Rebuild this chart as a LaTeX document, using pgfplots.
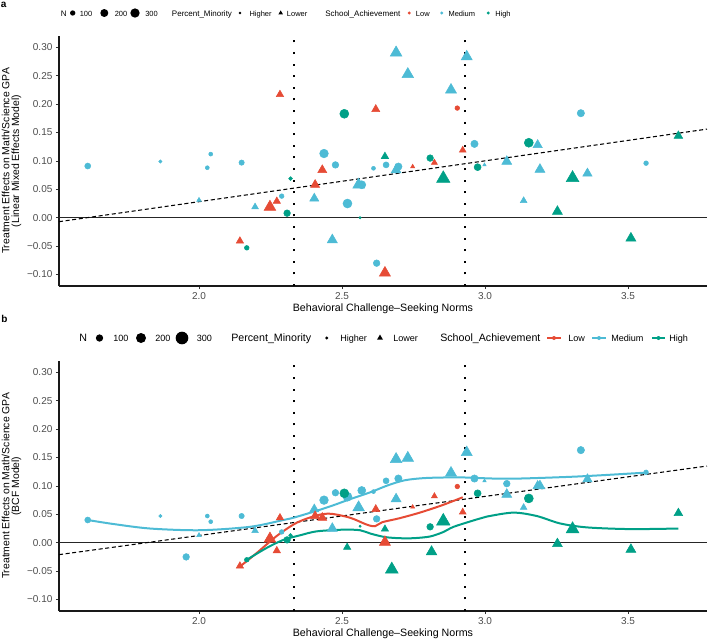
\documentclass[border=0pt]{standalone}
\usepackage{fontspec}
\setmainfont{Liberation Sans}
\usepackage{pgfplots}
\usepackage{pgfplotstable}
\pgfplotsset{compat=1.18}
\usetikzlibrary{shapes.geometric}

\definecolor{cLow}{HTML}{E64B35}
\definecolor{cMed}{HTML}{4DBBD5}
\definecolor{cHigh}{HTML}{00A087}

% x = norms, ya = LMM effect, yb = BCF effect, n = school size
\pgfplotstableread{
x     ya      yb     n
1.611 0.091   0.040  127
1.865 0.099   0.047  39
2.041 0.112   0.037  56
2.029 0.088   0.047  56
2.149 0.097   0.047  100
2.437 0.113   0.075  264
2.477 0.093   0.088  156
2.610 0.087   0.090  56
2.569 0.058   0.092  225
2.289 0.038   0.019  77
2.519 0.025   0.081  285
2.621 -0.080  0.042  156
3.335 0.184   0.163  189
2.963 0.130   0.113  189
2.654 0.093   0.109  127
2.697 0.090   0.113  189
3.563 0.096   0.124  77
1.955 nan     -0.025 156
3.076 nan     0.104  156
}\medcirc
\pgfplotstableread{
x     ya      yb     n
2.000 0.031   0.013  50
2.558 0.058   0.062  300
2.403 0.034   0.059  180
2.196 0.019   0.021  100
2.466 -0.039  0.025  223
2.689 0.2905  0.147  300
2.730 0.2525  0.149  300
2.881 0.225   0.123  270
2.936 0.2835  0.159  270
3.184 0.128   0.100  193
2.689 0.084   0.077  220
2.998 0.093   0.109  25
3.076 0.099   0.085  220
3.192 0.085   0.100  220
3.358 0.078   0.112  190
3.135 0.030   0.062  100
}\medtri
\pgfplotstableread{
x     ya      yb     n
2.903 0.193   0.099  77
}\lowcirc
\pgfplotstableread{
x     ya      yb     n
2.283 0.217   0.044  120
2.618 0.191   0.059  142
2.431 0.084   0.044  180
2.406 0.058   0.047  180
2.272 0.029   -0.014 120
2.248 0.019   0.007  300
2.143 -0.041  -0.041 120
2.650 -0.097  0.001  270
2.922 0.119   0.054  100
2.747 0.090   0.063  36
2.823 0.097   0.082  80
}\lowtri
\pgfplotstableread{
x     ya      yb     n
2.508 0.183   0.087  285
2.320 0.069   0.013  50
2.308 0.008   0.005  156
2.563 0.000   0.029  19
2.167 -0.053  -0.030 77
3.153 0.132   0.078  285
2.808 0.105   0.028  156
2.974 0.089   0.087  172
}\highcirc
\pgfplotstableread{
x     ya      yb     n
3.676 0.144   0.052  170
2.650 0.108   0.024  120
2.854 0.069   0.038  400
3.306 0.070   0.024  360
3.253 0.011   -0.002 220
3.510 -0.036  -0.012 220
2.518 nan     -0.008 120
2.813 nan     -0.016 250
2.674 nan     -0.047 360
}\hightri

% loess curves of panel b
\pgfplotstableread{
x     y
1.611 0.040
1.700 0.033
1.829 0.025
2.003 0.022
2.178 0.028
2.295 0.040
2.330 0.044
2.410 0.056
2.470 0.066
2.530 0.077
2.600 0.089
2.660 0.101
2.720 0.110
2.796 0.114
2.913 0.115
3.029 0.113
3.122 0.113
3.297 0.116
3.414 0.119
3.565 0.1235
}\medfit
\pgfplotstableread{
x     y
2.143 -0.042
2.202 -0.018
2.272 0.012
2.341 0.035
2.411 0.048
2.460 0.051
2.528 0.044
2.586 0.032
2.615 0.029
2.640 0.036
2.700 0.043
2.772 0.053
2.850 0.066
2.922 0.080
}\lowfit
\pgfplotstableread{
x     y
2.167 -0.030
2.237 -0.009
2.295 0.005
2.353 0.013
2.411 0.020
2.504 0.023
2.563 0.022
2.600 0.016
2.650 0.010
2.700 0.008
2.750 0.008
2.808 0.011
2.855 0.019
2.890 0.028
2.971 0.041
3.006 0.046
3.099 0.053
3.181 0.047
3.262 0.034
3.356 0.027
3.507 0.024
3.676 0.025
}\highfit

\pgfplotsset{
  panel/.style={
    scale only axis, width=486pt, height=187.5pt,
    xmin=1.5105, xmax=3.776, ymin=-0.1202, ymax=0.3199,
    axis x line*=bottom, axis y line*=left,
    axis line style={-, line width=0.8pt, black!90},
    tick align=outside, major tick length=2.25pt,
    tick style={line width=0.6pt, black!80},
    xtick={2,2.5,3,3.5}, xticklabels={2.0,2.5,3.0,3.5},
    ytick={-0.1,-0.05,0,0.05,0.1,0.15,0.2,0.25,0.3},
    yticklabels={−0.10,−0.05,0.00,0.05,0.10,0.15,0.20,0.25,0.30},
    ticklabel style={font=\fontsize{7.5}{9}\selectfont, text=black!70},
    xticklabel style={anchor=north, inner sep=0pt, yshift=-2.5pt},
    yticklabel style={anchor=east, inner sep=0pt, xshift=-2.5pt},
    every axis x label/.style={at={(axis description cs:0.5,0)}, anchor=base,
      yshift=-18.75pt, font=\fontsize{8}{9}\selectfont},
    every axis y label/.style={at={(axis description cs:-0.0887,0.5)}, rotate=90,
      anchor=north, align=center, inner sep=0pt,
      font=\fontsize{7.8}{7.3}\selectfont},
    xlabel={Behavioral Challenge–Seeking Norms},
  },
  circ/.style={only marks, scatter, mark=*,
    scatter/use mapped color={draw=#1, fill=#1},
    visualization depends on={0.2*sqrt(\thisrow{n}) \as \msz},
    scatter/@pre marker code/.append style={/tikz/mark size=\msz}},
  tri/.style={only marks, scatter, mark=triangle*,
    scatter/use mapped color={draw=#1, fill=#1},
    visualization depends on={0.29*sqrt(\thisrow{n}) \as \msz},
    scatter/@pre marker code/.append style={/tikz/mark size=\msz}},
  zeroline/.style={black!85, line width=0.9pt},
  vdot/.style={black, line width=1.5pt, dash pattern=on 1.5pt off 7.2pt},
  lmline/.style={black, line width=0.8pt, dash pattern=on 3pt off 2pt},
}

\begin{document}
\begin{tikzpicture}
\path[use as bounding box] (0,0) rectangle (531pt,-480pt);

% ---------- panel a ----------
\begin{axis}[panel, at={(44.25pt,-214.5pt)}, anchor=south west,
  ylabel={Treatment Effects on Math/Science GPA\\(Linear Mixed Effects Model)}]
\addplot[zeroline] coordinates {(1.5105,0) (3.776,0)};
\addplot[vdot] coordinates {(2.331,-0.1202) (2.331,0.3199)};
\addplot[vdot] coordinates {(2.929,-0.1202) (2.929,0.3199)};
\addplot[lmline] coordinates {(1.5105,-0.007) (3.776,0.156)};
\addplot[circ=cMed] table[x=x,y=ya] {\medcirc};
\addplot[tri=cMed] table[x=x,y=ya] {\medtri};
\addplot[circ=cLow] table[x=x,y=ya] {\lowcirc};
\addplot[tri=cLow] table[x=x,y=ya] {\lowtri};
\addplot[circ=cHigh] table[x=x,y=ya] {\highcirc};
\addplot[tri=cHigh] table[x=x,y=ya] {\hightri};
\end{axis}

% ---------- panel b ----------
\begin{axis}[panel, at={(44.25pt,-458.25pt)}, anchor=south west,
  ylabel={Treatment Effects on Math/Science GPA\\(BCF Model)}]
\addplot[zeroline] coordinates {(1.5105,0) (3.776,0)};
\addplot[vdot] coordinates {(2.331,-0.1202) (2.331,0.3199)};
\addplot[vdot] coordinates {(2.929,-0.1202) (2.929,0.3199)};
\addplot[lmline] coordinates {(1.5105,-0.021) (3.776,0.135)};
\addplot[circ=cMed] table[x=x,y=yb] {\medcirc};
\addplot[tri=cMed] table[x=x,y=yb] {\medtri};
\addplot[circ=cLow] table[x=x,y=yb] {\lowcirc};
\addplot[tri=cLow] table[x=x,y=yb] {\lowtri};
\addplot[circ=cHigh] table[x=x,y=yb] {\highcirc};
\addplot[tri=cHigh] table[x=x,y=yb] {\hightri};
\addplot[cMed, line width=1.5pt, smooth, no marks] table {\medfit};
\addplot[cLow, line width=1.5pt, smooth, no marks] table {\lowfit};
\addplot[cHigh, line width=1.5pt, smooth, no marks] table {\highfit};
\end{axis}

% ---------- labels and legends (pixel coordinates, y down) ----------
\begin{scope}[x=0.75pt, y=-0.75pt]
\node[anchor=base west, inner sep=0, font=\fontsize{7.5}{9}\selectfont\bfseries] at (0.5,7.5) {a};
\node[anchor=base west, inner sep=0, font=\fontsize{7.5}{9}\selectfont\bfseries] at (1,322) {b};

% legend a
\begin{scope}[every node/.style={inner sep=0}]
\node[anchor=base west, font=\fontsize{6}{7}\selectfont] at (60.5,16) {N};
\node[circle, fill=black, minimum size=4pt] at (72.7,13) {};
\node[anchor=base west, font=\fontsize{5.6}{7}\selectfont] at (79.5,16) {100};
\node[circle, fill=black, minimum size=6pt] at (104.3,13) {};
\node[anchor=base west, font=\fontsize{5.6}{7}\selectfont] at (114.5,16) {200};
\node[circle, fill=black, minimum size=7pt] at (135,13) {};
\node[anchor=base west, font=\fontsize{5.6}{7}\selectfont] at (145,16) {300};
\node[anchor=base west, font=\fontsize{6}{7}\selectfont] at (171.7,16) {Percent\_Minority};
\node[circle, fill=black, minimum size=2pt] at (240,13) {};
\node[anchor=base west, font=\fontsize{5.6}{7}\selectfont] at (249.3,16) {Higher};
\node[regular polygon, regular polygon sides=3, fill=black, minimum size=3.9pt] at (280.7,13) {};
\node[anchor=base west, font=\fontsize{5.6}{7}\selectfont] at (286.7,16) {Lower};
\node[anchor=base west, font=\fontsize{6}{7}\selectfont] at (325,16) {School\_Achievement};
\node[circle, fill=cLow, minimum size=2.5pt] at (409.3,13) {};
\node[anchor=base west, font=\fontsize{5.6}{7}\selectfont] at (415.7,16) {Low};
\node[circle, fill=cMed, minimum size=2.5pt] at (441.7,13) {};
\node[anchor=base west, font=\fontsize{5.6}{7}\selectfont] at (448.3,16) {Medium};
\node[circle, fill=cHigh, minimum size=2.5pt] at (488.3,13) {};
\node[anchor=base west, font=\fontsize{5.6}{7}\selectfont] at (495,16) {High};

% legend b
\node[anchor=base west, font=\fontsize{8}{9}\selectfont] at (79,341.6) {N};
\node[circle, fill=black, minimum size=5.5pt] at (99.5,338) {};
\node[anchor=base west, font=\fontsize{6.8}{8}\selectfont] at (113,341.6) {100};
\node[circle, fill=black, minimum size=7.5pt] at (141,338) {};
\node[anchor=base west, font=\fontsize{6.8}{8}\selectfont] at (155,341.6) {200};
\node[circle, fill=black, minimum size=9.5pt] at (182,338) {};
\node[anchor=base west, font=\fontsize{6.8}{8}\selectfont] at (196.5,341.6) {300};
\node[anchor=base west, font=\fontsize{8}{9}\selectfont] at (231,341.6) {Percent\_Minority};
\node[circle, fill=black, minimum size=2.5pt] at (326.7,338) {};
\node[anchor=base west, font=\fontsize{6.8}{8}\selectfont] at (340,341.6) {Higher};
\node[regular polygon, regular polygon sides=3, fill=black, minimum size=5.2pt] at (380,338) {};
\node[anchor=base west, font=\fontsize{6.8}{8}\selectfont] at (393,341.6) {Lower};
\node[anchor=base west, font=\fontsize{8}{9}\selectfont] at (440,341.6) {School\_Achievement};
\draw[cLow, line width=1.5pt] (547,338) -- (561,338);
\node[circle, fill=cLow, minimum size=3pt] at (554,338) {};
\node[anchor=base west, font=\fontsize{6.8}{8}\selectfont] at (568,341.6) {Low};
\draw[cMed, line width=1.5pt] (592,338) -- (606,338);
\node[circle, fill=cMed, minimum size=3pt] at (599,338) {};
\node[anchor=base west, font=\fontsize{6.8}{8}\selectfont] at (611,341.6) {Medium};
\draw[cHigh, line width=1.5pt] (652,338) -- (665,338);
\node[circle, fill=cHigh, minimum size=3pt] at (658.5,338) {};
\node[anchor=base west, font=\fontsize{6.8}{8}\selectfont] at (669,341.6) {High};
\end{scope}
\end{scope}
\end{tikzpicture}
\end{document}
